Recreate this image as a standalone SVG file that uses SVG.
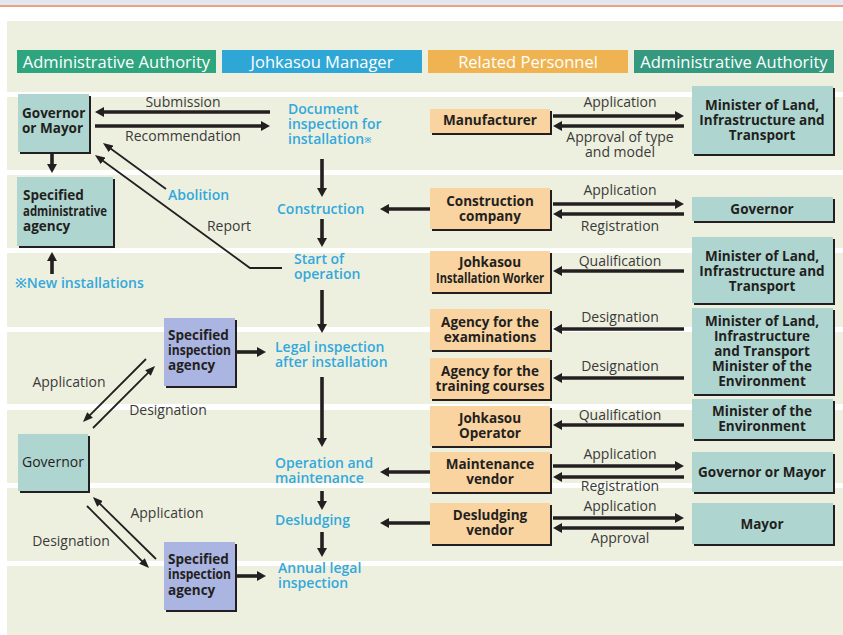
<svg xmlns="http://www.w3.org/2000/svg" width="843" height="635" viewBox="0 0 843 635">
<style>
text{font-family:"Open Sans","Noto Sans","Liberation Sans",sans-serif}
.hd{font-size:16.5px;font-weight:500;fill:#fff;text-anchor:middle}
.lb{font-size:14px;fill:#3a3a3a;text-anchor:middle}
.bl{font-size:14px;font-weight:600;fill:#33a8dc}
.nd{font-size:13.5px;font-weight:700;fill:#231f20}
.ndc{font-size:13.5px;font-weight:700;fill:#231f20;text-anchor:middle}
.sh{fill:#231f20}
.teal{fill:#aed5cf}
.org{fill:#f9d3a0}
.lav{fill:#abb5e1}
.band{fill:#eef0df}
.thick{stroke:#231f20;stroke-width:3.6;fill:none;marker-end:url(#ah)}
.thin{stroke:#231f20;stroke-width:1.8;fill:none;marker-end:url(#at)}
</style>
<defs>
<marker id="ah" markerUnits="userSpaceOnUse" markerWidth="9" markerHeight="10" refX="3" refY="5" orient="auto">
<path d="M0,0 L9,5 L0,10 z" fill="#231f20"/>
</marker>
<marker id="at" markerUnits="userSpaceOnUse" markerWidth="10" markerHeight="8" refX="4" refY="4" orient="auto">
<path d="M0,0 L10,4 L0,8 z" fill="#231f20"/>
</marker>
</defs>
<rect x="0" y="0" width="843" height="635" fill="#fff"/>
<rect x="0" y="0" width="843" height="5" fill="#e3e7f1"/>
<rect x="0" y="5" width="843" height="2" fill="#eba47a"/>
<g id="bands">
<rect class="band" x="7" y="21" width="836" height="71"/>
<rect class="band" x="7" y="97" width="836" height="73"/>
<rect class="band" x="7" y="175" width="836" height="73"/>
<rect class="band" x="7" y="253" width="836" height="74"/>
<rect class="band" x="7" y="332" width="836" height="72"/>
<rect class="band" x="7" y="410" width="836" height="73"/>
<rect class="band" x="7" y="488" width="836" height="73"/>
<rect class="band" x="7" y="566" width="836" height="69"/>
</g>
<g id="header">
<rect x="17" y="50" width="199" height="23" fill="#2ea57f"/>
<text class="hd" x="116.5" y="67.5">Administrative Authority</text>
<rect x="222" y="50" width="200" height="23" fill="#2fa7d6"/>
<text class="hd" x="322" y="67.5">Johkasou Manager</text>
<rect x="428" y="50" width="200" height="23" fill="#efb451"/>
<text class="hd" x="528" y="67.5">Related Personnel</text>
<rect x="634" y="50" width="200" height="23" fill="#34997f"/>
<text class="hd" x="734" y="67.5">Administrative Authority</text>
</g>
<g id="connectors">
<line class="thick" x1="270" y1="112" x2="101" y2="112"/>
<line class="thick" x1="95" y1="126" x2="264" y2="126"/>
<line class="thick" x1="52" y1="153" x2="52" y2="167"/>
<line class="thick" x1="52" y1="274" x2="52" y2="258"/>
<line class="thick" x1="322" y1="159" x2="322" y2="191"/>
<line class="thick" x1="430" y1="209" x2="386" y2="209"/>
<line class="thick" x1="322" y1="219" x2="322" y2="241"/>
<line class="thick" x1="322" y1="290" x2="322" y2="327"/>
<line class="thick" x1="237" y1="352" x2="260" y2="352"/>
<line class="thick" x1="322" y1="377" x2="322" y2="441"/>
<line class="thick" x1="430" y1="472" x2="386" y2="472"/>
<line class="thick" x1="322" y1="491" x2="322" y2="504"/>
<line class="thick" x1="430" y1="523" x2="386" y2="523"/>
<line class="thick" x1="322" y1="532" x2="322" y2="551"/>
<line class="thick" x1="237" y1="576" x2="260" y2="576"/>
<line class="thick" x1="553" y1="116" x2="678" y2="116"/>
<line class="thick" x1="684" y1="126" x2="559" y2="126"/>
<line class="thick" x1="553" y1="204" x2="678" y2="204"/>
<line class="thick" x1="684" y1="214" x2="559" y2="214"/>
<line class="thick" x1="684" y1="271" x2="559" y2="271"/>
<line class="thick" x1="684" y1="329" x2="559" y2="329"/>
<line class="thick" x1="684" y1="378" x2="559" y2="378"/>
<line class="thick" x1="684" y1="425" x2="559" y2="425"/>
<line class="thick" x1="553" y1="466" x2="678" y2="466"/>
<line class="thick" x1="684" y1="477" x2="559" y2="477"/>
<line class="thick" x1="553" y1="518" x2="678" y2="518"/>
<line class="thick" x1="684" y1="528" x2="559" y2="528"/>
<line class="thin" x1="166" y1="189" x2="107.8" y2="146.5"/>
<polyline class="thin" points="282,268 250,268 99.8,158.5"/>
<line class="thin" x1="146" y1="359" x2="87.2" y2="417.8"/>
<line class="thin" x1="93" y1="428" x2="150.8" y2="370.2"/>
<line class="thin" x1="156" y1="559" x2="97.2" y2="501.2"/>
<line class="thin" x1="87" y1="506" x2="144.8" y2="563.8"/>
</g>
<g id="connector-labels">
<text class="lb" x="183" y="107">Submission</text>
<text class="lb" x="183" y="141">Recommendation</text>
<text class="lb" x="229" y="231">Report</text>
<text class="lb" x="69" y="387">Application</text>
<text class="lb" x="168" y="415">Designation</text>
<text class="lb" x="167" y="518">Application</text>
<text class="lb" x="71" y="546">Designation</text>
<text class="lb" x="620" y="107">Application</text>
<text class="lb" x="620" y="142">Approval of type</text>
<text class="lb" x="620" y="157">and model</text>
<text class="lb" x="620" y="195">Application</text>
<text class="lb" x="620" y="231">Registration</text>
<text class="lb" x="620" y="266">Qualification</text>
<text class="lb" x="620" y="322">Designation</text>
<text class="lb" x="620" y="371">Designation</text>
<text class="lb" x="620" y="420">Qualification</text>
<text class="lb" x="620" y="459">Application</text>
<text class="lb" x="620" y="491">Registration</text>
<text class="lb" x="620" y="511">Application</text>
<text class="lb" x="620" y="543">Approval</text>
</g>
<g id="steps">
<text class="bl" x="288" y="114">Document</text>
<text class="bl" x="288" y="129">inspection for</text>
<text class="bl" x="288" y="144">installation<tspan font-size="9" dy="-1">※</tspan></text>
<text class="bl" x="277" y="214">Construction</text>
<text class="bl" x="294" y="264">Start of</text>
<text class="bl" x="294" y="279">operation</text>
<text class="bl" x="275" y="352">Legal inspection</text>
<text class="bl" x="275" y="367">after installation</text>
<text class="bl" x="275" y="468">Operation and</text>
<text class="bl" x="275" y="483">maintenance</text>
<text class="bl" x="275" y="525">Desludging</text>
<text class="bl" x="278" y="573">Annual legal</text>
<text class="bl" x="278" y="588">inspection</text>
<text class="bl" x="168" y="200">Abolition</text>
<text class="bl" x="15" y="288">※New installations</text>
</g>
<g id="gov-mayor">
<rect class="sh" x="20" y="96" width="71" height="58"/>
<rect class="teal" x="18" y="94" width="71" height="58"/>
<text class="nd" x="22" y="118">Governor</text>
<text class="nd" x="22" y="133">or Mayor</text>
</g>
<g id="specified-admin-agency">
<rect class="sh" x="19" y="179" width="96" height="69"/>
<rect class="teal" x="17" y="177" width="96" height="69"/>
<text class="nd" x="23" y="200">Specified</text>
<text class="nd" x="23" y="215.5" font-size="12" textLength="84" lengthAdjust="spacingAndGlyphs">administrative</text>
<text class="nd" x="23" y="231">agency</text>
</g>
<g id="governor-left">
<rect class="sh" x="20" y="436" width="70" height="57"/>
<rect class="teal" x="18" y="434" width="70" height="57"/>
<text x="22" y="467" font-size="14" fill="#231f20">Governor</text>
</g>
<g id="sia-1">
<rect class="sh" x="166" y="320" width="71" height="68"/>
<rect class="lav" x="164" y="318" width="71" height="68"/>
<text class="nd" x="168" y="340">Specified</text>
<text class="nd" x="168" y="355" textLength="63" lengthAdjust="spacingAndGlyphs">inspection</text>
<text class="nd" x="168" y="370">agency</text>
</g>
<g id="sia-2">
<rect class="sh" x="166" y="544" width="71" height="68"/>
<rect class="lav" x="164" y="542" width="71" height="68"/>
<text class="nd" x="168" y="564">Specified</text>
<text class="nd" x="168" y="579" textLength="63" lengthAdjust="spacingAndGlyphs">inspection</text>
<text class="nd" x="168" y="595">agency</text>
</g>
<g id="manufacturer">
<rect class="sh" x="432" y="111" width="120" height="24"/>
<rect class="org" x="430" y="109" width="120" height="24"/>
<text class="ndc" x="490" y="125">Manufacturer</text>
</g>
<g id="construction-company">
<rect class="sh" x="432" y="190" width="120" height="41"/>
<rect class="org" x="430" y="188" width="120" height="41"/>
<text class="ndc" x="490" y="206">Construction</text>
<text class="ndc" x="490" y="221">company</text>
</g>
<g id="installation-worker">
<rect class="sh" x="432" y="253" width="120" height="41"/>
<rect class="org" x="430" y="251" width="120" height="41"/>
<text class="ndc" x="490" y="267">Johkasou</text>
<text class="ndc" x="490" y="283" font-size="12" textLength="108" lengthAdjust="spacingAndGlyphs">Installation Worker</text>
</g>
<g id="agency-exam">
<rect class="sh" x="432" y="311" width="120" height="41"/>
<rect class="org" x="430" y="309" width="120" height="41"/>
<text class="ndc" x="490" y="327">Agency for the</text>
<text class="ndc" x="490" y="342">examinations</text>
</g>
<g id="agency-training">
<rect class="sh" x="432" y="360" width="120" height="41"/>
<rect class="org" x="430" y="358" width="120" height="41"/>
<text class="ndc" x="490" y="376">Agency for the</text>
<text class="ndc" x="490" y="391">training courses</text>
</g>
<g id="operator">
<rect class="sh" x="432" y="408" width="120" height="40"/>
<rect class="org" x="430" y="406" width="120" height="40"/>
<text class="ndc" x="490" y="423">Johkasou</text>
<text class="ndc" x="490" y="438">Operator</text>
</g>
<g id="maintenance-vendor">
<rect class="sh" x="432" y="454" width="120" height="40"/>
<rect class="org" x="430" y="452" width="120" height="40"/>
<text class="ndc" x="490" y="469">Maintenance</text>
<text class="ndc" x="490" y="484">vendor</text>
</g>
<g id="desludging-vendor">
<rect class="sh" x="432" y="505" width="120" height="41"/>
<rect class="org" x="430" y="503" width="120" height="41"/>
<text class="ndc" x="490" y="520">Desludging</text>
<text class="ndc" x="490" y="535">vendor</text>
</g>
<g id="mlit-1">
<rect class="sh" x="694" y="88" width="141" height="68"/>
<rect class="teal" x="692" y="86" width="141" height="68"/>
<text class="ndc" x="762" y="110">Minister of Land,</text>
<text class="ndc" x="762" y="125">Infrastructure and</text>
<text class="ndc" x="762" y="140">Transport</text>
</g>
<g id="governor-right">
<rect class="sh" x="694" y="199" width="141" height="24"/>
<rect class="teal" x="692" y="197" width="141" height="24"/>
<text class="ndc" x="762" y="214">Governor</text>
</g>
<g id="mlit-2">
<rect class="sh" x="694" y="239" width="141" height="66"/>
<rect class="teal" x="692" y="237" width="141" height="66"/>
<text class="ndc" x="762" y="261">Minister of Land,</text>
<text class="ndc" x="762" y="276">Infrastructure and</text>
<text class="ndc" x="762" y="291">Transport</text>
</g>
<g id="mlit-moe">
<rect class="sh" x="694" y="310" width="141" height="86"/>
<rect class="teal" x="692" y="308" width="141" height="86"/>
<text class="ndc" x="762" y="326">Minister of Land,</text>
<text class="ndc" x="762" y="341">Infrastructure</text>
<text class="ndc" x="762" y="356">and Transport</text>
<text class="ndc" x="762" y="371">Minister of the</text>
<text class="ndc" x="762" y="386">Environment</text>
</g>
<g id="moe">
<rect class="sh" x="694" y="401" width="141" height="40"/>
<rect class="teal" x="692" y="399" width="141" height="40"/>
<text class="ndc" x="762" y="416">Minister of the</text>
<text class="ndc" x="762" y="431">Environment</text>
</g>
<g id="gov-or-mayor">
<rect class="sh" x="694" y="454" width="141" height="40"/>
<rect class="teal" x="692" y="452" width="141" height="40"/>
<text class="ndc" x="762" y="477">Governor or Mayor</text>
</g>
<g id="mayor">
<rect class="sh" x="694" y="505" width="141" height="41"/>
<rect class="teal" x="692" y="503" width="141" height="41"/>
<text class="ndc" x="762" y="529">Mayor</text>
</g>
</svg>
